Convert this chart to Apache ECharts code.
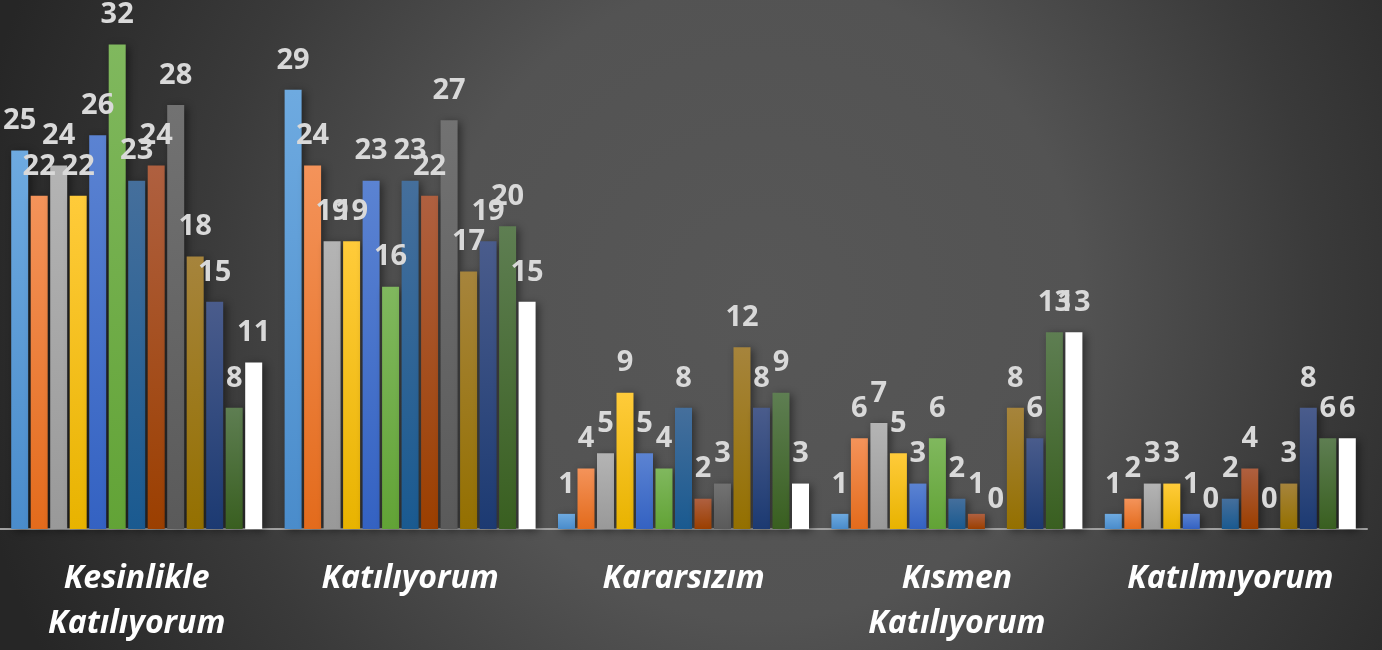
<!DOCTYPE html>
<html>
<head>
<meta charset="utf-8">
<script src="https://cdn.jsdelivr.net/npm/echarts@6/dist/echarts.min.js"></script>
<style>
  html, body { margin: 0; padding: 0; }
  body {
    width: 1382px; height: 650px; overflow: hidden;
    background: radial-gradient(circle 800px at 760px 300px, #575757 0%, #535353 40%, #3a3a3a 70%, #262626 100%);
  }
  #chart { width: 1382px; height: 650px; }
</style>
</head>
<body>
<div id="chart"></div>
<script>
// Categories (x axis)
const categories = ['Kesinlikle Katılıyorum', 'Katılıyorum', 'Kararsızım', 'Kısmen Katılıyorum', 'Katılmıyorum'];

// Series values, one array per series (values per category)
const seri1  = [25, 29, 1, 1, 1];
const seri2  = [22, 24, 4, 6, 2];
const seri3  = [24, 19, 5, 7, 3];
const seri4  = [22, 19, 9, 5, 3];
const seri5  = [26, 23, 5, 3, 1];
const seri6  = [32, 16, 4, 6, 0];
const seri7  = [23, 23, 8, 2, 2];
const seri8  = [24, 22, 2, 1, 4];
const seri9  = [28, 27, 3, 0, 0];
const seri10 = [18, 17, 12, 8, 3];
const seri11 = [15, 19, 8, 6, 8];
const seri12 = [8, 20, 9, 13, 6];
const seri13 = [11, 15, 3, 13, 6];

const seriesNames = ['Seri 1','Seri 2','Seri 3','Seri 4','Seri 5','Seri 6','Seri 7','Seri 8','Seri 9','Seri 10','Seri 11','Seri 12','Seri 13'];
const seriesData = [seri1, seri2, seri3, seri4, seri5, seri6, seri7, seri8, seri9, seri10, seri11, seri12, seri13];

// Bar colours: [top, bottom] of vertical gradient
const barColors = [
  ['#6EAAE0', '#4A8CCB'],
  ['#F4935A', '#E36B1C'],
  ['#B4B4B4', '#999999'],
  ['#FFCB3A', '#E8B300'],
  ['#5B83D2', '#3462C2'],
  ['#80B85E', '#62A336'],
  ['#456F9C', '#1A5A90'],
  ['#AF6040', '#9B3F00'],
  ['#727272', '#5A5A5A'],
  ['#A6843C', '#947000'],
  ['#4A5C8C', '#1C3A72'],
  ['#5E7E52', '#395F20'],
  ['#FFFFFF', '#FFFFFF']
];

const chart = echarts.init(document.getElementById('chart'), null, { renderer: 'canvas' });

const series = seriesData.map((d, i) => ({
  name: seriesNames[i],
  type: 'bar',
  data: d,
  barWidth: 17,
  barGap: '14.7%',
  itemStyle: {
    color: {
      type: 'linear', x: 0, y: 0, x2: 0, y2: 1,
      colorStops: [
        { offset: 0, color: barColors[i][0] },
        { offset: 1, color: barColors[i][1] }
      ]
    },
    shadowColor: 'rgba(0,0,0,0.45)',
    shadowBlur: 8,
    shadowOffsetX: 3,
    shadowOffsetY: 2
  },
  label: {
    show: true,
    position: 'top',
    distance: 15,
    color: '#D9D9D9',
    fontFamily: 'Open Sans',
    fontWeight: 'bold',
    fontSize: 29,
    lineHeight: 29
  }
}));

chart.setOption({
  backgroundColor: 'transparent',
  animation: false,
  grid: {
    left: 0, right: 15, top: -1, bottom: 121,
    containLabel: false,
    outerBoundsMode: 'none'
  },
  xAxis: {
    type: 'category',
    data: categories,
    axisTick: { show: false },
    axisLine: { show: true, lineStyle: { color: '#A0A0A0', width: 2 } },
    axisLabel: {
      interval: 0,
      margin: 27,
      color: '#FFFFFF',
      fontFamily: 'Open Sans',
      fontStyle: 'italic',
      fontWeight: 'bold',
      fontSize: 32,
      lineHeight: 45,
      formatter: v => v.replace(' ', '\n')
    },
    splitLine: { show: false }
  },
  yAxis: {
    type: 'value',
    min: 0,
    max: 35,
    show: false
  },
  series: series
});
</script>
</body>
</html>
